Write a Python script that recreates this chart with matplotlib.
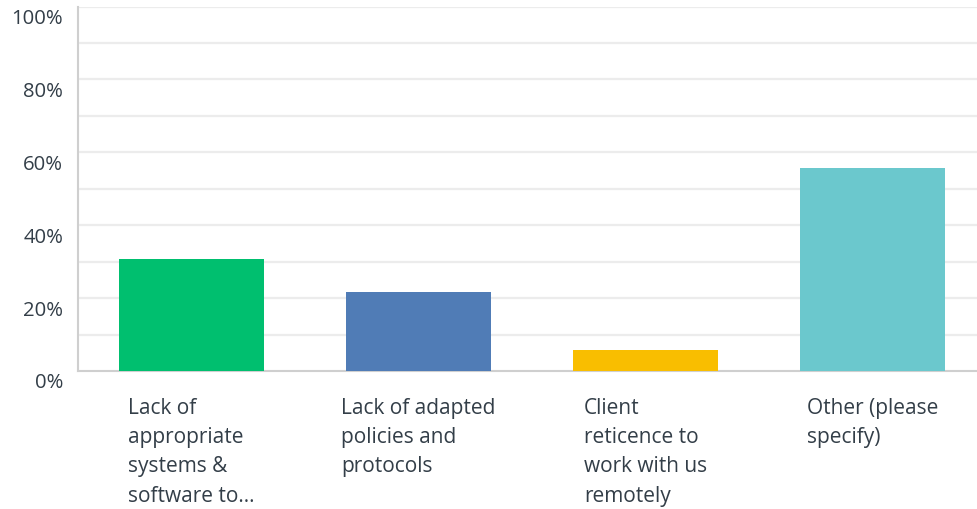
import matplotlib
matplotlib.use("Agg")
import matplotlib.pyplot as plt
import matplotlib.transforms as mtransforms
import numpy as np

categories = [
    "Lack of\nappropriate\nsystems &\nsoftware to...",
    "Lack of adapted\npolicies and\nprotocols",
    "Client\nreticence to\nwork with us\nremotely",
    "Other (please\nspecify)",
]
values = [30.8, 21.7, 5.8, 55.8]
colors = ["#00bf6f", "#507cb6", "#f9be00", "#6bc8cd"]
ytick_values = [0, 20, 40, 60, 80, 100]
ytick_labels = ["0%", "20%", "40%", "60%", "80%", "100%"]

text_color = "#333e48"
plt.rcParams["font.family"] = ["Open Sans", "DejaVu Sans"]

fig = plt.figure(figsize=(9.77, 5.10), dpi=100)
ax = fig.add_axes([78 / 977, 138 / 510, 908 / 977, 364.5 / 510])

x = np.arange(len(categories))
ax.bar(x, values, width=0.643, color=colors, zorder=3)

ax.set_xlim(-0.5, len(categories) - 0.5)
ax.set_ylim(0, 100)

# light gridlines every 10%, labels every 20%
for g in range(10, 101, 10):
    ax.axhline(g, color="#ececec", lw=1.6, zorder=1)

ax.set_yticks(ytick_values)
ax.set_yticklabels(ytick_labels, fontsize=14.6, color=text_color)
ax.tick_params(axis="y", length=0, pad=10.8)
offset = mtransforms.ScaledTranslation(0, -9 / 100, fig.dpi_scale_trans)
for lbl in ax.get_yticklabels():
    lbl.set_transform(lbl.get_transform() + offset)

ax.set_xticks([])
for xi, label in zip(x, categories):
    ax.text(xi, -7, label, ha="center", va="top", multialignment="left",
            fontsize=15, color=text_color, linespacing=1.53,
            transform=ax.transData, clip_on=False)

for side in ["top", "right"]:
    ax.spines[side].set_visible(False)
ax.spines["left"].set_color("#cfcfcf")
ax.spines["left"].set_linewidth(1.5)
ax.spines["bottom"].set_color("#cfcfcf")
ax.spines["bottom"].set_linewidth(1.5)

fig.savefig("out.png", dpi=100)
